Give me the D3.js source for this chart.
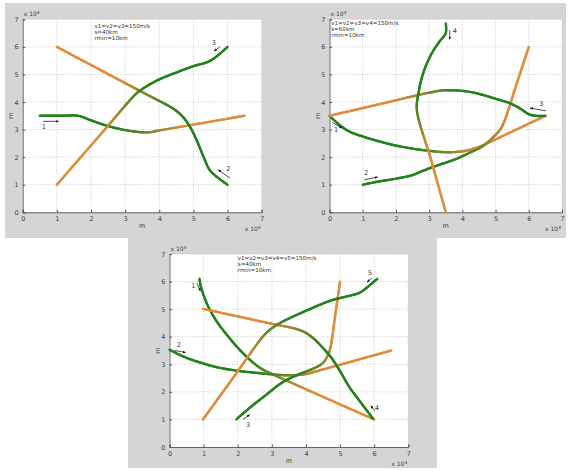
<!DOCTYPE html>
<html>
<head>
<meta charset="utf-8">
<script src="https://cdn.jsdelivr.net/npm/d3@7"></script>
<style>
body { margin: 0; background: #fff; }
svg { display: block; font-family: "DejaVu Sans", sans-serif; }
</style>
</head>
<body>
<div id="paper"></div>
<script>
// axis ticks, units of 10^4 m
const tickValues = [0, 1, 2, 3, 4, 5, 6, 7];

// panel 1 : three aircraft
const p1Path1 = [[0.5,3.5],[1.1,3.5],[1.63,3.5],[1.97,3.35],[2.36,3.18],[2.85,3.02],[3.34,2.92],[3.68,2.9],[4.0,2.97],[6.5,3.5]];
const p1Path2 = [[6.0,1.0],[5.5,1.5],[5.3,2.0],[5.1,2.6],[4.9,3.1],[4.7,3.45],[4.5,3.68],[4.3,3.84],[3.5,4.36],[1.0,6.0]];
const p1Path3 = [[6.0,6.0],[5.5,5.5],[5.0,5.3],[4.5,5.07],[4.0,4.82],[3.6,4.55],[3.35,4.33],[3.18,4.12],[2.5,3.14],[1.0,1.0]];
// arrows: x1, y1, x2, y2, label, label x, label y
const p1Arrows = [[0.6,3.3,1.05,3.3,"1",0.62,3.1],[6.07,1.24,5.73,1.54,"2",6.02,1.55],[5.78,6.0,5.61,5.85,"3",5.6,6.15]];
const p1Notes = ["v1=v2=v3=150m/s", "s=40km", "rmin=10km"];

// panel 2 : four aircraft
const p2Path1 = [[0,3.5],[0.3,3.17],[0.6,2.93],[1.0,2.75],[1.5,2.57],[2.0,2.42],[2.6,2.29],[3.0,2.23],[3.5,2.18],[4.0,2.21],[4.4,2.33],[4.65,2.45],[5.5,2.93],[6.5,3.5]];
const p2Path2 = [[1.0,1.0],[1.4,1.1],[2.0,1.22],[2.5,1.35],[2.8,1.5],[3.3,1.72],[3.8,1.93],[4.2,2.15],[4.6,2.39],[4.9,2.69],[5.15,3.02],[5.28,3.35],[5.6,4.53],[6.0,6.0]];
const p2Path3 = [[6.5,3.5],[6.2,3.5],[6.0,3.56],[5.72,3.78],[5.42,3.96],[5.02,4.11],[4.61,4.26],[4.21,4.37],[3.81,4.42],[3.41,4.42],[3.0,4.34],[1.5,3.92],[0,3.5]];
const p2Path4 = [[3.5,6.85],[3.5,6.5],[3.31,6.19],[3.11,5.83],[2.91,5.34],[2.76,4.8],[2.68,4.32],[2.63,3.72],[3.06,1.9],[3.5,0]];
const p2Arrows = [[0.08,3.26,0.38,3.05,"1",0.2,2.98],[1.05,1.18,1.45,1.28,"2",1.1,1.42],[6.52,3.68,6.04,3.78,"3",6.38,3.93],[3.62,6.6,3.62,6.27,"4",3.77,6.55]];
const p2Notes = ["v1=v2=v3=v4=150m/s", "s=60km", "rmin=10km"];

// panel 3 : five aircraft
const p3Path1 = [[0.88,6.1],[0.91,5.87],[1.03,5.4],[1.18,4.98],[1.42,4.49],[1.68,4.07],[2.01,3.59],[2.35,3.17],[2.69,2.84],[3.04,2.63],[4.5,1.82],[6.0,1.0]];
const p3Path2 = [[0,3.53],[0.39,3.29],[0.88,3.07],[1.37,2.9],[1.96,2.77],[2.55,2.69],[3.04,2.63],[3.53,2.6],[4.02,2.65],[4.31,2.75],[5.4,3.12],[6.5,3.5]];
const p3Path3 = [[1.96,1.0],[2.35,1.42],[2.84,1.9],[3.33,2.36],[3.82,2.65],[4.21,2.84],[4.5,3.05],[4.65,3.35],[4.72,3.62],[4.86,4.8],[5.0,6.0]];
const p3Path4 = [[5.97,1.02],[5.58,1.66],[5.29,2.14],[5.0,2.75],[4.75,3.23],[4.5,3.59],[4.21,3.95],[3.92,4.19],[3.53,4.34],[3.23,4.41],[2.1,4.71],[0.98,5.01]];
const p3Path5 = [[6.09,6.1],[5.88,5.88],[5.58,5.6],[5.19,5.46],[4.8,5.34],[4.41,5.16],[4.02,4.95],[3.62,4.73],[3.23,4.49],[2.94,4.25],[2.74,4.01],[1.86,2.5],[0.98,1.0]];
const p3Arrows = [[0.81,5.94,0.9,5.66,"1",0.7,5.82],[0.15,3.5,0.47,3.43,"2",0.27,3.7],[2.15,1.0,2.35,1.17,"3",2.3,0.8],[6.02,1.3,5.9,1.5,"4",6.08,1.4],[5.93,6.12,5.79,5.98,"5",5.88,6.3]];
const p3Notes = ["v1=v2=v3=v4=v5=150m/s", "s=40km", "rmin=10km"];

const panels = [
  {x0: 22.7, x1: 261.7, y0: 212.3, y1: 19.3, paths: [p1Path1, p1Path2, p1Path3], arrows: p1Arrows, notes: p1Notes, note: [2.1, 6.7]},
  {x0: 329.5, x1: 562, y0: 212.3, y1: 19.3, paths: [p2Path1, p2Path2, p2Path3, p2Path4], arrows: p2Arrows, notes: p2Notes, note: [0.05, 6.8]},
  {x0: 169.5, x1: 408.3, y0: 447, y1: 254, paths: [p3Path1, p3Path2, p3Path3, p3Path4, p3Path5], arrows: p3Arrows, notes: p3Notes, note: [2.0, 6.78]}
];

const width = 568, height = 470;
const green = "rgb(36,130,30)", orange = "rgb(226,140,60)";
const mix = d3.interpolateRgb(green, orange);

const svg = d3.select("#paper").append("svg")
  .attr("width", width)
  .attr("height", height);

// grey figure background
svg.append("path")
  .attr("fill", "#d5d5d5")
  .attr("d", "M5,3H566V238H437V468H128V238H5Z");

svg.append("defs").append("marker")
  .attr("id", "head")
  .attr("viewBox", "0 -5 10 10")
  .attr("refX", 9)
  .attr("markerWidth", 4)
  .attr("markerHeight", 4)
  .attr("orient", "auto")
  .append("path")
  .attr("fill", "#111")
  .attr("d", "M0,-4L10,0L0,4Z");

panels.forEach(p => {
  const x = d3.scaleLinear([0, 7], [p.x0, p.x1]);
  const y = d3.scaleLinear([0, 7], [p.y0, p.y1]);
  const g = svg.append("g");

  g.append("rect")
    .attr("x", p.x0).attr("y", p.y1)
    .attr("width", p.x1 - p.x0).attr("height", p.y0 - p.y1)
    .attr("fill", "#fff");

  // dotted grid
  g.append("g").selectAll("line").data(tickValues.slice(1)).join("line")
    .attr("x1", d => x(d)).attr("x2", d => x(d))
    .attr("y1", p.y0).attr("y2", p.y1)
    .attr("stroke", "#aaa").attr("stroke-width", 0.6).attr("stroke-dasharray", "1,1.5");
  g.append("g").selectAll("line").data(tickValues.slice(1)).join("line")
    .attr("y1", d => y(d)).attr("y2", d => y(d))
    .attr("x1", p.x0).attr("x2", p.x1)
    .attr("stroke", "#aaa").attr("stroke-width", 0.6).attr("stroke-dasharray", "1,1.5");

  const xAxis = g.append("g")
    .attr("transform", `translate(0,${p.y0})`)
    .call(d3.axisBottom(x).tickValues(tickValues).tickFormat(d3.format("d")).tickSize(-2.5).tickPadding(4));
  const yAxis = g.append("g")
    .attr("transform", `translate(${p.x0},0)`)
    .call(d3.axisLeft(y).tickValues(tickValues).tickFormat(d3.format("d")).tickSize(-2.5).tickPadding(4));
  [xAxis, yAxis].forEach(a => {
    a.select(".domain").attr("stroke", "#555").attr("stroke-width", 0.9);
    a.selectAll(".tick line").attr("stroke", "#555");
    a.selectAll("text").attr("font-size", 6.5).attr("fill", "#444")
      .attr("font-family", "DejaVu Sans, sans-serif");
  });

  // axis labels
  g.append("text").attr("x", (p.x0 + p.x1) / 2).attr("y", p.y0 + 16)
    .attr("font-size", 6.5).attr("fill", "#444").attr("text-anchor", "middle").text("m");
  g.append("text").attr("transform", `translate(${p.x0 - 10},${y(3.5)}) rotate(-90)`)
    .attr("font-size", 6.5).attr("fill", "#444").attr("text-anchor", "middle").text("m");
  const exp1 = g.append("text").attr("x", p.x0 + 1).attr("y", p.y1 - 3)
    .attr("font-size", 6).attr("fill", "#444").text("x 10");
  exp1.append("tspan").attr("dy", -2.5).attr("font-size", 4.5).text("4");
  const exp2 = g.append("text").attr("x", p.x1 - 1).attr("y", p.y0 + 19)
    .attr("font-size", 6).attr("fill", "#444").attr("text-anchor", "end").text("x 10");
  exp2.append("tspan").attr("dy", -2.5).attr("font-size", 4.5).text("4");

  // notes
  g.append("g").selectAll("text").data(p.notes).join("text")
    .attr("x", x(p.note[0]))
    .attr("y", (d, i) => y(p.note[1]) + i * 6)
    .attr("font-size", 5.6).attr("fill", "#333")
    .text(d => d);

  // trajectories, green at the start turning orange
  const line = d3.line().x(d => x(d[0])).y(d => y(d[1])).curve(d3.curveCatmullRom.alpha(0.5));
  p.paths.forEach(pts => {
    const tmp = g.append("path").attr("d", line(pts)).attr("fill", "none");
    const node = tmp.node();
    const len = node.getTotalLength();
    const n = Math.ceil(len / 1.5);
    const samples = d3.range(n + 1).map(i => node.getPointAtLength(len * i / n));
    tmp.remove();
    const segs = d3.pairs(samples).map((s, i) => ({a: s[0], b: s[1], t: i / n}));
    g.append("g").selectAll("line").data(segs).join("line")
      .attr("x1", d => d.a.x).attr("y1", d => d.a.y)
      .attr("x2", d => d.b.x).attr("y2", d => d.b.y)
      .attr("stroke", d => {
        let u = Math.max(0, Math.min(1, (d.t - 0.35) / 0.4));
        return mix(u * u * (3 - 2 * u));
      })
      .attr("stroke-width", 2.4)
      .attr("stroke-linecap", "round");
  });

  // arrows with aircraft numbers
  g.append("g").selectAll("line").data(p.arrows).join("line")
    .attr("x1", d => x(d[0])).attr("y1", d => y(d[1]))
    .attr("x2", d => x(d[2])).attr("y2", d => y(d[3]))
    .attr("stroke", "#222").attr("stroke-width", 0.8)
    .attr("marker-end", "url(#head)");
  g.append("g").selectAll("text").data(p.arrows).join("text")
    .attr("x", d => x(d[5])).attr("y", d => y(d[6]))
    .attr("font-size", 6.5).attr("fill", "#333")
    .attr("text-anchor", "middle").attr("dominant-baseline", "middle")
    .text(d => d[4]);
});
</script>
</body>
</html>
